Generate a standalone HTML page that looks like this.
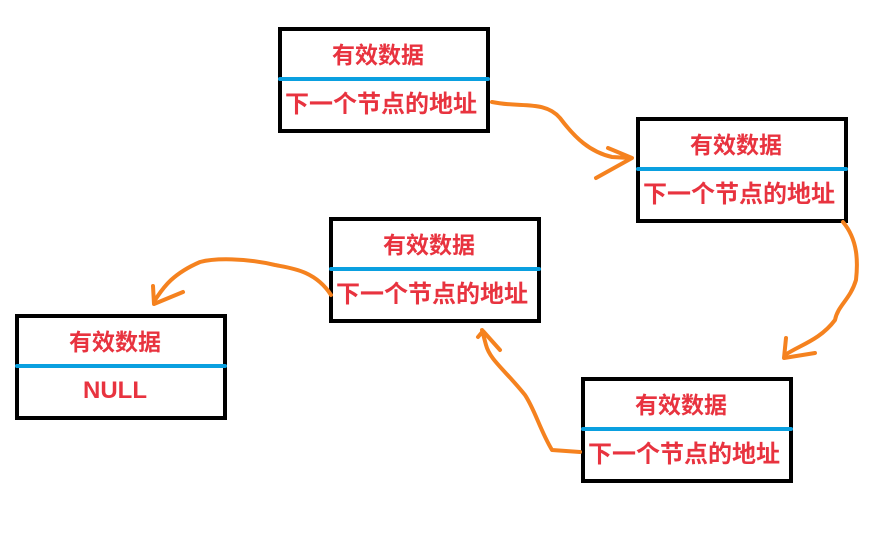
<!DOCTYPE html>
<html><head><meta charset="utf-8"><style>
body{margin:0;width:886px;height:533px;background:#fff;position:relative;overflow:hidden;font-family:"Liberation Sans","Noto Sans CJK SC",sans-serif}
.b{position:absolute;width:204px;height:98px;border:4px solid #000;background:#fff}
.b .l{position:absolute;left:-4px;right:-4px;top:46px;height:4px;background:#0aa0e0;border-radius:2px}
.t{position:absolute;left:0;right:0;text-align:center;color:#e8333f;font-weight:bold;font-size:23px;line-height:28px;white-space:nowrap}
.t1{top:10px;right:12px}.t2{top:60px;text-align:left;left:3px;font-size:24px}
svg{position:absolute;left:0;top:0}
</style></head><body>
<div class="b" style="left:278px;top:27px"><div class="t t1">有效数据</div><div class="l"></div><div class="t t2">下一个节点的地址</div></div>
<div class="b" style="left:636px;top:117px"><div class="t t1">有效数据</div><div class="l"></div><div class="t t2">下一个节点的地址</div></div>
<div class="b" style="left:329px;top:217px"><div class="t t1">有效数据</div><div class="l"></div><div class="t t2">下一个节点的地址</div></div>
<div class="b" style="left:15px;top:314px"><div class="t t1">有效数据</div><div class="l"></div><div class="t" style="top:59px;font-size:24px;right:12px">NULL</div></div>
<div class="b" style="left:581px;top:377px"><div class="t t1">有效数据</div><div class="l"></div><div class="t t2">下一个节点的地址</div></div>
<svg width="886" height="533" fill="none" stroke="#f5821f" stroke-width="4" stroke-linecap="round" stroke-linejoin="round">
<path d="M492 102 C520 108 545 100 560 118 C575 138 590 152 612 157 L630 158"/>
<path d="M608 148 L632 158 L596 178"/>
<path d="M843 222 C858 240 858 262 856 280 C850 300 838 305 835 320 C820 340 800 345 785 355"/>
<path d="M786 338 L784 358 L815 353"/>
<path d="M580 452 L552 450 C540 430 535 410 525 395 C505 370 490 360 486 345 L482 330"/>
<path d="M478 337 L483 331 L500 350"/>
<path d="M331 295 C315 270 290 268 275 265 C245 258 215 258 200 262 C170 275 162 290 155 300"/>
<path d="M153 286 L154 304 L183 292"/>
</svg>
</body></html>
